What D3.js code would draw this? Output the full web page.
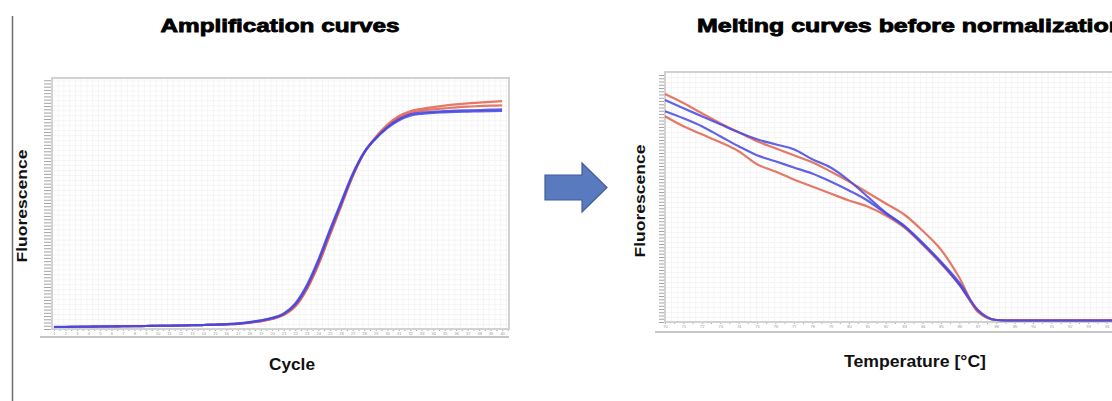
<!DOCTYPE html>
<html>
<head>
<meta charset="utf-8">
<script src="https://cdn.jsdelivr.net/npm/d3@7"></script>
<style>
  body { margin: 0; background: #fff; }
  svg { display: block; font-family: "Liberation Sans", Arial, sans-serif; }
</style>
</head>
<body>
<div id="chart"></div>
<script>
// amplification curves (fluorescence per cycle)
var cycles = [1,2,3,4,5,6,7,8,9,10,11,12,13,14,15,16,17,18,19,20,21,22,23,24,25,26,27,28,29,30,31,32,33,34,35,36,37,38,39,40]
var ampRed1 = [0.8,0.8,0.9,0.9,1.0,1.0,1.1,1.1,1.2,1.3,1.3,1.4,1.5,1.6,1.7,1.9,2.1,2.5,3.1,4.0,5.6,9.0,15.8,25.6,37.6,49.5,61.4,71.0,77.3,82.2,85.6,87.6,88.6,89.3,89.9,90.4,90.8,91.1,91.4,91.7]
var ampRed2 = [0.8,0.8,0.9,0.9,1.0,1.0,1.1,1.1,1.2,1.3,1.3,1.4,1.5,1.6,1.7,1.9,2.1,2.6,3.2,4.1,5.8,9.3,16.2,26.1,38.0,49.8,61.5,70.8,76.8,81.5,84.9,86.9,87.9,88.4,88.8,89.2,89.5,89.7,89.9,90.0]
var ampBlue1 = [0.8,0.8,0.9,0.9,1.0,1.0,1.1,1.1,1.2,1.3,1.3,1.4,1.5,1.6,1.7,1.9,2.2,2.7,3.4,4.3,6.0,9.8,16.9,27.0,39.0,50.5,62.0,71.0,76.7,81.1,84.4,86.4,87.1,87.4,87.7,87.9,88.0,88.1,88.3,88.4]
var ampBlue2 = [0.9,0.9,0.9,1.0,1.0,1.1,1.1,1.2,1.2,1.3,1.4,1.4,1.5,1.6,1.8,2.0,2.3,2.8,3.5,4.5,6.3,10.3,17.6,27.8,39.8,51.2,62.5,71.2,76.6,80.8,83.9,85.8,86.6,87.0,87.2,87.4,87.5,87.6,87.7,87.8]

// melting curves (fluorescence per degree)
var temps = [70,71,72,73,74,75,76,77,78,79,80,81,82,83,84,85,86,87,88,89,90,91,92,93,94,95]
var meltRed1 = [91.2,87.6,83.5,79.5,75.9,72.3,69.5,66.7,63.9,60.2,56.2,51.8,47.4,43.0,36.5,28.9,17.7,4.0,0.8,0.7,0.7,0.7,0.7,0.7,0.7,0.7]
var meltBlue1 = [88.8,85.5,82.3,79.1,75.9,73.1,71.1,69.1,65.1,61.8,56.6,50.2,43.8,38.6,31.7,24.1,15.7,4.8,0.8,0.6,0.6,0.6,0.6,0.6,0.6,0.6]
var meltBlue2 = [84.3,81.5,78.3,74.3,70.3,66.7,64.3,61.8,59.4,56.2,52.6,48.6,43.4,38.2,31.3,23.7,14.9,4.4,0.8,0.6,0.6,0.6,0.6,0.6,0.6,0.6]
var meltRed2 = [82.3,78.3,75.1,71.9,68.3,63.1,60.2,57.0,54.2,51.4,48.6,46.2,42.6,37.8,30.9,23.3,14.9,4.8,0.8,0.7,0.7,0.7,0.7,0.7,0.7,0.7]

var RED = "#e0614e"
var BLUE = "#4747e2"

var W = 1112, H = 401

var svg = d3.select("#chart").append("svg")
    .attr("width", W)
    .attr("height", H)

// thin separator on the far left
svg.append("line")
    .attr("x1", 12.5).attr("x2", 12.5)
    .attr("y1", 16).attr("y2", H)
    .attr("stroke", "#6e6e6e")
    .attr("stroke-width", 1.5)

// panel layouts
var ampPanel = {
  left: 52, right: 509, top: 78, bottom: 329,
  xDomain: [0.83, 40.6], yDomain: [0, 101],
  gridX: 0.5, gridY: 2, tickY: 1.3,
  stripLeft: 44, axisLineY: 337, axisLineX0: 40,
  xs: cycles,
  series: [[ampRed1, RED], [ampRed2, RED], [ampBlue2, BLUE], [ampBlue1, BLUE]],
  title: "Amplification curves", titleX: 280, titleAnchor: "middle", titleLen: 239,
  xLabel: "Cycle", xLabelX: 292, xLabelY: 370, xLabelLen: 46,
  yLabelX: 27, yLabelY: 206
}

var meltPanel = {
  left: 665, right: 1125, top: 72, bottom: 322,
  xDomain: [70, 95], yDomain: [0, 100],
  gridX: 0.33, gridY: 2, tickY: 1.3,
  stripLeft: 659, axisLineY: 332, axisLineX0: 655,
  xs: temps,
  series: [[meltRed2, RED], [meltBlue2, BLUE], [meltRed1, RED], [meltBlue1, BLUE]],
  title: "Melting curves before normalization", titleX: 697, titleAnchor: "start", titleLen: 427,
  xLabel: "Temperature [°C]", xLabelX: 915, xLabelY: 367, xLabelLen: 142,
  yLabelX: 645, yLabelY: 201
}

function drawPanel(p){
  var x = d3.scaleLinear().domain(p.xDomain).range([p.left, p.right])
  var y = d3.scaleLinear().domain(p.yDomain).range([p.bottom, p.top])
  var g = svg.append("g")

  g.append("rect")
      .attr("x", p.left).attr("y", p.top)
      .attr("width", p.right - p.left).attr("height", p.bottom - p.top)
      .attr("fill", "#fff")

  // dense background grid
  var gx = g.append("g")
      .attr("transform", "translate(0," + p.bottom + ")")
      .call(d3.axisBottom(x)
        .tickValues(d3.range(p.xDomain[0] + p.gridX, p.xDomain[1], p.gridX))
        .tickSize(-(p.bottom - p.top)).tickFormat(""))
  var gy = g.append("g")
      .attr("transform", "translate(" + p.left + ",0)")
      .call(d3.axisLeft(y)
        .tickValues(d3.range(p.yDomain[0] + p.gridY, p.yDomain[1], p.gridY))
        .tickSize(-(p.right - p.left)).tickFormat(""))
  g.selectAll(".domain").remove()
  gx.selectAll("line").attr("stroke", "#f1f1f1").attr("stroke-width", 0.7)
  gy.selectAll("line").attr("stroke", "#f1f1f1").attr("stroke-width", 0.7)

  // y tick strip
  var ty = g.append("g")
      .attr("transform", "translate(" + p.left + ",0)")
      .call(d3.axisLeft(y)
        .tickValues(d3.range(p.yDomain[0], p.yDomain[1], p.tickY))
        .tickSize(p.left - p.stripLeft).tickFormat(""))
  ty.select(".domain").remove()
  ty.selectAll("line").attr("stroke", "#a4a4a4").attr("stroke-width", 1)

  // x tick strip with tiny labels
  var tx = g.append("g")
      .attr("transform", "translate(0," + p.bottom + ")")
      .call(d3.axisBottom(x)
        .tickValues(d3.range(Math.ceil(p.xDomain[0]), p.xDomain[1], 0.5))
        .tickSize(2).tickPadding(1)
        .tickFormat(function(d){ return d % 1 === 0 ? d : "" }))
  tx.select(".domain").remove()
  tx.selectAll("line").attr("stroke", "#aaa")
  tx.selectAll("text").attr("font-size", 4).attr("fill", "#999")

  // plot frame
  g.append("rect")
      .attr("x", p.left).attr("y", p.top)
      .attr("width", p.right - p.left).attr("height", p.bottom - p.top)
      .attr("fill", "none")
      .attr("stroke", "#d2d2d2")
      .attr("stroke-width", 2)

  g.append("line")
      .attr("x1", p.axisLineX0).attr("x2", p.right)
      .attr("y1", p.axisLineY).attr("y2", p.axisLineY)
      .attr("stroke", "#c6c6c6")
      .attr("stroke-width", 2)

  // curves
  var line = d3.line()
      .x(function(d, i){ return x(p.xs[i]) })
      .y(function(d){ return y(d) })
      .curve(d3.curveMonotoneX)

  p.series.forEach(function(s){
    g.append("path")
        .datum(s[0])
        .attr("d", line)
        .attr("fill", "none")
        .attr("stroke", s[1])
        .attr("stroke-width", 2.2)
        .attr("stroke-opacity", 0.85)
  })

  // texts
  svg.append("text")
      .attr("x", p.titleX).attr("y", 32)
      .attr("text-anchor", p.titleAnchor)
      .attr("font-size", 18)
      .attr("font-weight", "bold")
      .attr("stroke", "#000").attr("stroke-width", 0.8)
      .attr("textLength", p.titleLen)
      .attr("lengthAdjust", "spacingAndGlyphs")
      .text(p.title)

  svg.append("text")
      .attr("x", p.xLabelX).attr("y", p.xLabelY)
      .attr("text-anchor", "middle")
      .attr("font-size", 16)
      .attr("font-weight", "bold")
      .attr("fill", "#111")
      .attr("textLength", p.xLabelLen)
      .attr("lengthAdjust", "spacingAndGlyphs")
      .text(p.xLabel)

  svg.append("text")
      .attr("transform", "translate(" + p.yLabelX + "," + p.yLabelY + ") rotate(-90)")
      .attr("text-anchor", "middle")
      .attr("font-size", 15.5)
      .attr("font-weight", "bold")
      .attr("fill", "#111")
      .attr("textLength", 113)
      .attr("lengthAdjust", "spacingAndGlyphs")
      .text("Fluorescence")
}

drawPanel(ampPanel)
drawPanel(meltPanel)

// block arrow between the panels
var arrow = { x0: 545, x1: 607, cy: 187.5, body: 12.5, head: 24.5, headX: 582 }
svg.append("path")
    .attr("d", d3.line()([
      [arrow.x0, arrow.cy - arrow.body],
      [arrow.headX, arrow.cy - arrow.body],
      [arrow.headX, arrow.cy - arrow.head],
      [arrow.x1, arrow.cy],
      [arrow.headX, arrow.cy + arrow.head],
      [arrow.headX, arrow.cy + arrow.body],
      [arrow.x0, arrow.cy + arrow.body]
    ]) + "Z")
    .attr("fill", "#5a7ac0")
    .attr("stroke", "#3f5c9c")
    .attr("stroke-width", 1.2)
</script>
</body>
</html>
